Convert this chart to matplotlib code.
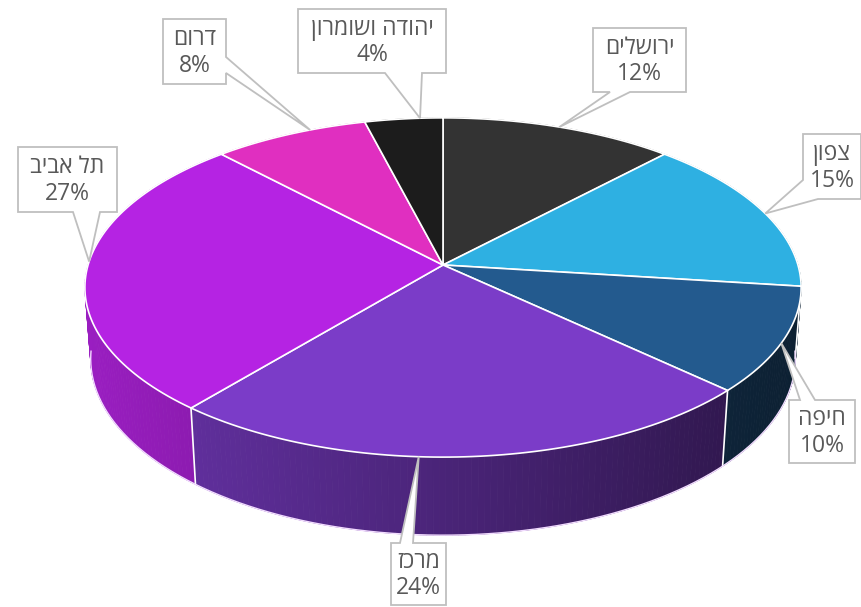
import numpy as np
import matplotlib.pyplot as plt
from matplotlib.patches import Polygon

# data
regions = ['ירושלים', 'צפון', 'חיפה', 'מרכז', 'תל אביב', 'דרום', 'יהודה ושומרון']
shares = [12, 15, 10, 24, 27, 8, 4]
colors = ['#333333', '#2eb0e2', '#235a8e', '#7b3cc8', '#b523e3', '#e02fc0', '#1c1c1c']

plt.rcParams['font.family'] = ['Open Sans', 'DejaVu Sans']

W, H = 862, 607
fig = plt.figure(figsize=(W / 100, H / 100), dpi=100)
ax = fig.add_axes([0, 0, 1, 1])
ax.set_xlim(0, W)
ax.set_ylim(H, 0)
ax.axis('off')

# simple perspective camera looking down on the pie
cx, cy = 443, 265
elev = np.radians(28)
dist, foc, depth = 6.66, 2364, 0.23


def proj(phi, hgt=0.0):
    X, Y = np.sin(phi), np.cos(phi)
    up = Y * np.sin(elev) + hgt * np.cos(elev)
    fwd = dist + Y * np.cos(elev) - hgt * np.sin(elev)
    return cx + foc * X / fwd, cy - foc * up / fwd


def shade(col, k):
    r, g, b = plt.matplotlib.colors.to_rgb(col)
    return (r * k, g * k, b * k)


vals = np.array(shares, dtype=float)
bounds = np.concatenate([[0], np.cumsum(vals)]) / vals.sum() * 2 * np.pi

###*** side walls, far pieces first
pieces = []
for i, col in enumerate(colors):
    ph = np.linspace(bounds[i], bounds[i + 1], max(3, int(shares[i] * 4)))
    for a, b in zip(ph[:-1], ph[1:]):
        xa, ya = proj(a)
        xb, yb = proj(b)
        xc, yc = proj(b, -depth)
        xd, yd = proj(a, -depth)
        xm = (xa + xb) / 2
        k = np.clip(0.85 - 0.5 * (xm - 88) / 712, 0.3, 0.9)
        c = shade(col, k)
        pieces.append((np.cos((a + b) / 2),
                       [(xa, ya), (xb, yb), (xc, yc), (xd, yd)], c))
pieces.sort(key=lambda p: -p[0])
for _, pts, c in pieces:
    ax.add_patch(Polygon(pts, closed=True, facecolor=c, edgecolor=c, lw=0.6, zorder=1))

# white seams on the wall
for a in bounds[:-1]:
    if np.cos(a) < 0.2:
        x0, y0 = proj(a)
        x1, y1 = proj(a, -depth)
        ax.plot([x0, x1], [y0, y1], color='white', lw=1.2, zorder=2)

# light glow at the bottom rim
ph = np.linspace(np.radians(95), np.radians(265), 200)
bx, by = proj(ph, -depth)
ax.plot(bx, by, color='#f2dcff', lw=1, zorder=2)

###*** top faces
for i, col in enumerate(colors):
    ph = np.linspace(bounds[i], bounds[i + 1], 80)
    rx, ry = proj(ph)
    pts = [(cx, cy)] + list(zip(rx, ry))
    ax.add_patch(Polygon(pts, closed=True, facecolor=col, edgecolor='white',
                         lw=1.2, joinstyle='round', zorder=3))

###*** callout labels
# box (x0, y0, x1, y1), side where the pointer leaves, two base points
callouts = [
    ((593, 28, 686, 92), 'bottom', (630, 610)),
    ((803, 134, 861, 199), 'bl', (818, 180)),
    ((789, 400, 855, 463), 'top', (800, 815)),
    ((391, 543, 446, 605), 'top', (400, 413)),
    ((18, 147, 117, 212), 'bottom', (100, 73)),
    ((163, 19, 226, 84), 'right', (57, 73)),
    ((298, 9, 446, 73), 'bottom', (422, 385)),
]
# where on the rim each pointer lands, degrees past the slice middle
tip_shift = [0, 1, 1, 7, 3, 4, 3]

for i, name in enumerate(regions):
    (x0, y0, x1, y1), side, (p, q) = callouts[i]
    mid = (bounds[i] + bounds[i + 1]) / 2 + np.radians(tip_shift[i])
    tip = proj(mid)
    if side == 'bottom':
        pts = [(x0, y0), (x1, y0), (x1, y1), (p, y1), tip, (q, y1), (x0, y1)]
    elif side == 'top':
        pts = [(x0, y0), (p, y0), tip, (q, y0), (x1, y0), (x1, y1), (x0, y1)]
    elif side == 'right':
        pts = [(x0, y0), (x1, y0), (x1, p), tip, (x1, q), (x1, y1), (x0, y1)]
    else:  # bottom-left corner
        pts = [(x0, y0), (x1, y0), (x1, y1), (p, y1), tip, (x0, q)]
    ax.add_patch(Polygon(pts, closed=True, facecolor='white', edgecolor='#bfbfbf',
                         lw=1.3, zorder=5))
    # matplotlib lays text out left to right, so flip the Hebrew for display
    txt = name[::-1] + '\n' + f'{shares[i]}%'
    ax.text((x0 + x1) / 2, (y0 + y1) / 2 + 1, txt, ha='center', va='center',
            multialignment='center', fontsize=16.5, color='#595959',
            linespacing=1.12, zorder=6)

fig.savefig('out.png', dpi=100)
